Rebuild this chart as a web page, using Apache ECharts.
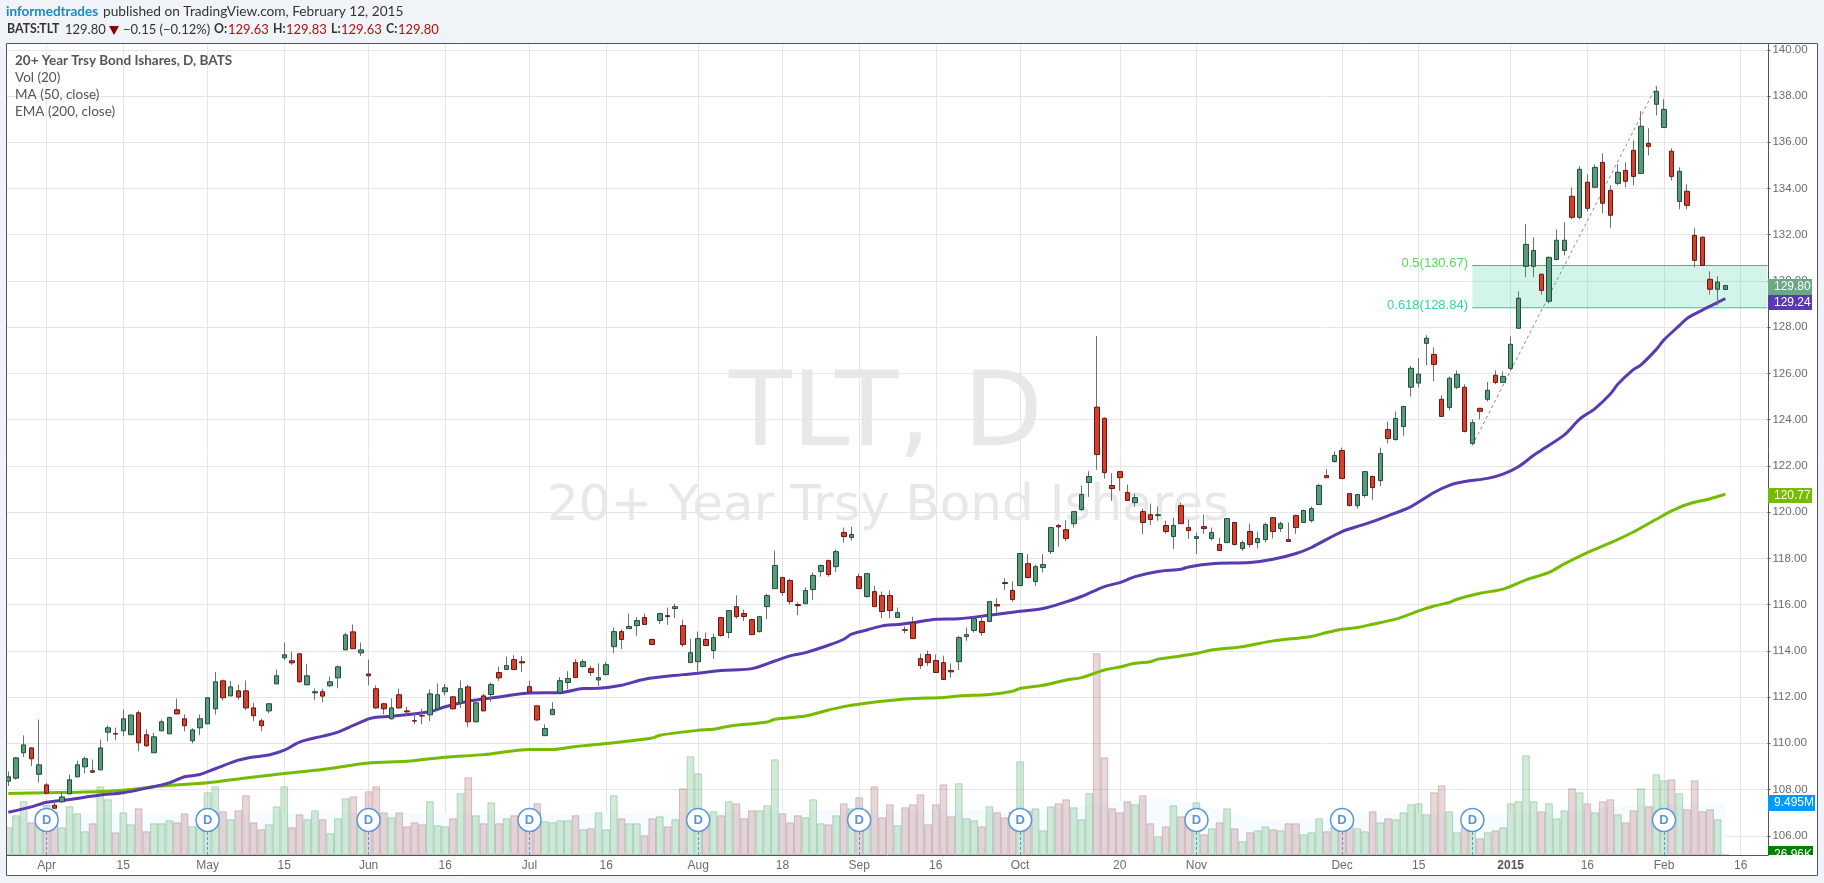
<!DOCTYPE html>
<html><head><meta charset="utf-8">
<style>html,body{margin:0;padding:0;background:#f0f4f8;overflow:hidden}#c{width:1824px;height:883px}</style>
<script src="https://cdn.jsdelivr.net/npm/echarts@6/dist/echarts.min.js"></script>
</head><body><div id="c"></div>
<script>
const tradingDays = {
 '2014-03':[25,26,27,28,31],
 '2014-04':[1,2,3,4,7,8,9,10,11,14,15,16,17,21,22,23,24,25,28,29,30],
 '2014-05':[1,2,5,6,7,8,9,12,13,14,15,16,19,20,21,22,23,27,28,29,30],
 '2014-06':[2,3,4,5,6,9,10,11,12,13,16,17,18,19,20,23,24,25,26,27,30],
 '2014-07':[1,2,3,7,8,9,10,11,14,15,16,17,18,21,22,23,24,25,28,29,30,31],
 '2014-08':[1,4,5,6,7,8,11,12,13,14,15,18,19,20,21,22,25,26,27,28,29],
 '2014-09':[2,3,4,5,8,9,10,11,12,15,16,17,18,19,22,23,24,25,26,29,30],
 '2014-10':[1,2,3,6,7,8,9,10,13,14,15,16,17,20,21,22,23,24,27,28,29,30,31],
 '2014-11':[3,4,5,6,7,10,11,12,13,14,17,18,19,20,21,24,25,26,28],
 '2014-12':[1,2,3,4,5,8,9,10,11,12,15,16,17,18,19,22,23,24,26,29,30,31],
 '2015-01':[2,5,6,7,8,9,12,13,14,15,16,20,21,22,23,26,27,28,29,30],
 '2015-02':[2,3,4,5,6,9,10,11,12,13,16,17,18,19]
};
const categories = Object.keys(tradingDays).flatMap(m => tradingDays[m].map(d => m + '-' + String(d).padStart(2,'0')));

const tickDates  = ['2014-04-01','2014-04-15','2014-05-01','2014-05-15','2014-06-02','2014-06-16','2014-07-01','2014-07-16','2014-08-01','2014-08-18','2014-09-02','2014-09-16','2014-10-01','2014-10-20','2014-11-03','2014-12-01','2014-12-15','2015-01-02','2015-01-16','2015-02-02','2015-02-16'];
const tickLabels = ['Apr','15','May','15','Jun','16','Jul','16','Aug','18','Sep','16','Oct','20','Nov','Dec','15','2015','16','Feb','16'];
const dividendDates = ['2014-04-01','2014-05-01','2014-06-02','2014-07-01','2014-08-01','2014-09-02','2014-10-01','2014-11-03','2014-12-01','2014-12-24','2015-02-02'];

const opens = [108.36,108.49,109.59,109.80,108.66,108.20,107.32,107.47,107.81,108.55,108.98,108.81,108.85,110.48,110.42,110.54,110.37,111.32,110.37,109.59,
110.54,110.41,111.45,111.06,110.11,110.67,110.84,111.49,112.70,112.05,112.27,112.27,111.53,110.97,111.40,112.57,113.70,113.57,113.87,112.53,
112.18,112.23,112.49,112.83,114.04,114.82,113.91,113.00,112.36,111.71,111.06,112.10,111.40,110.98,111.20,111.23,111.49,112.23,112.01,111.75,
112.44,110.93,112.05,112.11,113.06,113.19,113.62,113.53,112.45,111.62,110.33,111.24,112.19,112.63,113.49,113.32,113.23,112.74,112.97,114.18,
114.83,114.96,115.09,115.44,114.49,115.31,115.52,115.83,115.09,113.49,113.53,114.49,114.01,115.44,114.79,115.91,115.61,115.35,114.83,115.91,
116.69,117.17,117.04,116.00,116.04,116.65,117.43,117.90,117.64,119.12,118.90,117.21,116.35,116.56,116.39,116.39,115.44,114.91,115.22,113.66,
113.84,113.58,113.49,113.15,113.53,114.62,114.88,115.27,115.27,116.00,116.95,116.61,116.82,117.77,117.00,117.60,118.29,119.42,119.24,119.50,
120.11,121.28,124.54,124.06,121.15,121.75,120.85,120.41,120.02,119.89,119.85,119.42,118.94,120.28,119.33,118.86,119.37,118.86,118.60,118.68,
119.55,118.42,119.16,118.68,118.81,119.76,119.29,118.81,119.85,119.55,119.63,120.33,121.58,122.19,122.66,120.80,120.28,120.72,121.54,121.36,
123.57,123.14,123.70,125.40,125.58,127.30,126.82,124.88,124.53,125.40,125.40,122.97,124.49,124.88,125.92,125.61,126.22,127.95,130.63,130.63,
130.29,129.12,130.93,131.32,133.66,132.75,134.27,134.05,135.13,133.92,134.22,134.78,135.65,134.65,135.95,137.64,136.64,135.61,133.44,133.88,
131.97,131.89,130.07,129.64,129.63];
const closes = [108.55,109.37,109.93,109.33,109.07,107.84,107.19,107.68,108.42,109.07,109.33,108.75,109.80,110.67,110.40,111.06,111.22,110.02,109.89,110.28,
110.93,111.12,111.27,110.76,110.58,111.06,111.97,112.66,111.97,112.44,112.00,111.53,111.19,110.76,111.71,112.92,113.83,113.48,112.66,112.92,
112.23,112.04,112.66,113.31,114.69,114.09,114.04,112.92,111.53,111.49,111.53,111.53,111.36,110.96,111.18,112.14,112.10,112.40,111.49,112.36,
110.93,111.75,111.40,112.54,112.83,113.36,113.19,113.48,112.22,111.01,110.64,111.46,112.71,112.80,112.84,113.53,113.06,112.84,113.40,114.83,
114.49,115.05,115.31,115.14,114.27,115.61,115.48,115.91,114.27,113.92,114.53,114.23,114.57,114.66,115.74,115.48,115.48,114.70,115.48,116.39,
117.69,116.52,116.13,115.96,116.61,117.26,117.69,117.30,118.29,118.94,119.03,116.69,117.34,115.91,115.70,115.74,115.65,114.89,114.53,113.36,
113.49,113.06,112.76,113.09,114.57,114.70,115.39,114.79,116.13,115.94,116.91,116.22,118.21,117.17,117.64,117.73,119.33,119.36,118.86,120.02,
120.76,121.54,122.49,121.71,121.02,121.49,120.50,120.63,119.55,119.68,119.89,119.16,119.42,119.50,119.20,118.94,119.29,119.12,118.34,119.72,
118.60,118.68,118.60,118.86,119.46,119.16,119.50,118.73,119.33,120.07,120.15,121.15,121.49,122.45,121.45,120.28,120.76,121.75,121.06,122.53,
123.18,124.05,124.57,126.22,125.97,127.52,126.39,124.14,125.79,125.96,123.49,123.87,124.36,125.27,125.61,125.87,127.26,129.25,131.58,131.32,
129.59,131.02,131.76,131.76,132.75,134.83,133.14,134.91,133.36,132.84,134.70,134.31,134.52,136.69,135.82,138.20,137.42,134.52,134.74,133.27,
130.89,130.67,129.64,129.95,129.80];
const highs = [108.78,109.40,110.34,109.83,111.03,108.29,107.50,107.90,108.65,109.25,109.43,109.30,110.16,110.77,110.68,111.46,111.24,111.42,110.60,110.45,
111.03,111.14,111.94,111.25,110.65,111.25,112.00,113.08,112.76,112.69,112.54,112.72,111.75,111.06,111.74,113.19,114.36,113.96,113.91,113.44,
112.37,112.36,112.89,113.37,114.78,115.14,114.36,113.62,112.50,111.75,111.94,112.37,111.58,111.32,111.49,112.33,112.59,112.57,112.05,112.72,
112.53,111.79,112.14,112.63,113.32,113.75,113.81,113.77,112.71,111.62,110.82,111.78,112.86,113.12,113.64,113.64,113.36,113.46,113.53,115.01,
114.92,115.61,115.45,115.61,114.53,115.65,115.87,116.04,115.35,114.53,114.83,114.79,114.75,115.46,115.76,116.40,115.78,115.39,115.50,116.48,
118.34,117.21,117.13,116.09,116.74,117.39,117.73,117.95,118.38,119.33,119.37,117.34,117.36,116.82,116.56,116.62,115.87,115.05,115.48,113.88,
114.01,113.84,113.79,113.45,114.66,115.01,115.48,115.51,116.15,116.27,117.14,117.01,118.21,118.18,117.73,118.18,119.37,119.50,119.65,120.04,
121.15,121.77,127.62,124.09,121.68,121.77,121.19,120.80,120.15,120.37,120.24,119.63,119.76,120.41,119.68,119.12,119.89,119.33,118.90,119.74,
119.57,118.77,119.50,119.16,119.55,119.78,119.59,119.55,119.89,120.11,120.24,121.23,121.86,122.63,122.79,120.82,120.78,121.77,121.58,122.79,
123.92,124.35,124.60,126.32,126.66,127.65,127.13,125.05,125.87,126.13,125.53,124.01,124.51,125.63,126.13,126.09,127.60,129.55,132.46,131.89,
130.31,131.06,132.23,132.53,134.05,134.96,134.61,135.04,135.52,134.14,135.04,135.13,136.08,137.34,136.60,138.42,137.86,135.74,134.91,134.18,
132.28,131.93,130.41,130.20,129.83];
const lows = [108.15,108.43,109.40,109.01,108.30,107.84,107.19,107.42,107.81,108.53,108.71,108.71,108.85,110.09,110.14,110.31,110.37,109.66,109.85,109.59,
110.54,110.41,111.27,110.52,110.00,110.35,110.84,111.25,111.85,112.04,111.89,111.43,110.96,110.52,111.30,112.57,113.60,113.39,112.62,112.51,
111.88,111.78,112.44,112.38,114.04,114.09,113.77,112.51,111.49,111.26,111.03,111.49,111.17,110.83,110.83,110.96,111.49,112.07,111.46,111.53,
110.70,110.89,111.40,111.80,112.70,113.19,113.19,113.09,112.22,110.97,110.33,111.24,112.16,112.34,112.84,113.28,112.91,112.48,112.94,113.90,
114.08,114.96,114.65,115.14,114.27,115.16,115.12,115.42,114.17,113.49,113.10,114.23,113.65,114.62,114.54,115.39,115.29,114.70,114.79,115.37,
116.69,116.38,116.00,115.55,116.04,116.20,117.21,117.21,117.41,118.68,118.77,116.69,116.30,115.91,115.42,115.42,115.44,114.75,114.53,113.22,
113.35,113.06,112.76,112.83,113.17,114.43,114.79,114.65,115.27,115.65,116.64,116.13,116.82,117.13,116.81,117.39,118.19,118.50,118.75,119.33,
120.05,120.66,121.83,121.45,120.49,120.92,120.50,120.24,119.06,119.45,119.63,119.07,118.41,119.50,118.84,118.19,119.06,118.77,118.34,118.68,
118.55,118.32,118.47,118.42,118.68,118.86,119.14,118.73,119.06,119.55,119.55,120.33,121.49,122.14,121.45,120.26,120.15,120.63,120.53,121.12,
122.97,123.09,123.30,125.00,125.39,126.35,125.66,124.14,124.40,125.31,123.45,122.89,124.01,124.79,125.53,125.61,126.13,127.95,130.16,130.16,
129.41,129.03,130.89,131.11,132.66,132.66,133.01,134.05,132.92,132.28,134.14,134.05,134.14,134.65,135.43,137.16,136.64,134.35,133.10,133.10,
130.59,130.67,129.41,128.94,129.63];
const volumes = [5.12,7.34,9.93,6.04,6.47,9.25,8.01,5.12,9.0,7.71,4.38,5.86,12.7,10.3,4.19,7.89,5.67,8.63,4.38,5.86,
5.86,6.41,6.04,7.71,5.3,7.34,11.59,12.7,8.08,6.6,8.26,11.04,6.04,4.75,5.67,9.0,12.7,5.12,7.52,6.6,
8.26,6.6,4.01,6.78,10.48,10.85,6.78,11.78,12.7,7.89,6.97,7.89,5.3,6.04,5.67,9.93,5.49,5.3,6.78,11.41,
14.37,7.34,5.86,9.74,5.86,6.78,7.34,7.4,7.4,9.56,6.23,6.04,6.41,6.41,7.34,4.75,4.93,7.89,4.75,11.04,
6.78,5.86,5.86,3.64,6.78,7.15,5.3,6.6,12.33,18.25,15.1,6.47,8.08,7.34,9.93,9.56,6.78,8.26,8.26,9.19,
17.69,7.71,6.04,7.34,6.97,10.3,5.86,5.67,7.34,9.56,8.63,10.67,6.78,12.7,6.97,9.37,5.49,8.82,9.37,11.22,
5.67,9.37,13.07,7.15,13.26,6.78,6.41,5.3,9.0,7.89,6.97,8.01,17.32,8.2,8.63,4.56,9.0,9.56,10.3,8.82,
6.6,11.41,37.3,18.06,8.63,7.89,9.93,9.37,11.04,5.86,3.45,5.3,9.19,7.15,6.47,9.74,3.82,4.93,6.04,8.63,
4.93,2.53,4.19,4.56,5.3,4.75,4.56,5.86,5.86,3.82,4.19,6.78,4.38,5.24,6.35,5.86,4.93,4.38,8.08,6.04,
6.78,6.6,7.89,9.37,9.56,7.52,11.59,12.89,8.08,4.19,5.24,5.24,3.08,4.19,4.56,5.12,9.56,9.93,18.43,9.93,
8.08,9.56,6.78,8.26,12.33,11.59,9.56,7.89,9.93,10.3,7.52,6.04,8.26,12.33,9.0,14.92,13.81,14.0,11.41,8.45,
13.81,8.08,8.45,6.6,0.027];

const ma50Index = [0,3,5,8,12,15,18,21,23,25,27,30,32,34,36,38,41,43,45,47,48,50,55,57,60,64,68,72,75,77,80,83,88,90,93,97,100,102,104,107,109,110,112,114,116,118,121,124,128,132,135,138,140,143,145,147,150,153,154,157,162,165,168,170,174,177,180,183,186,188,190,193,195,197,199,200,203,205,207,209,210,212,213,215,216,218,219,221,223,224];
const ma50 = [107.02,107.25,107.45,107.57,107.76,107.86,108.06,108.29,108.55,108.65,108.90,109.27,109.41,109.49,109.70,110.05,110.31,110.48,110.77,111.06,111.13,111.17,111.36,111.58,111.82,112.00,112.18,112.19,112.37,112.38,112.51,112.77,112.97,113.03,113.15,113.23,113.56,113.78,113.92,114.24,114.50,114.72,114.90,115.08,115.14,115.21,115.37,115.39,115.54,115.71,115.83,116.12,116.35,116.78,116.95,117.21,117.43,117.53,117.63,117.77,117.82,117.96,118.21,118.47,119.16,119.48,119.84,120.24,120.85,121.16,121.32,121.46,121.64,121.96,122.46,122.68,123.34,124.02,124.48,125.11,125.54,126.16,126.37,127.04,127.45,128.07,128.38,128.74,129.07,129.24];
const ema200Index = [0,5,10,15,20,26,31,36,41,47,52,57,62,68,71,74,78,84,85,90,92,94,99,100,104,107,110,117,122,124,128,131,132,135,138,140,143,145,147,149,150,153,155,157,161,165,170,172,174,176,178,181,182,184,186,188,189,192,195,198,201,203,206,209,212,215,217,219,222,224];
const ema200 = [107.83,107.86,107.89,107.97,108.15,108.29,108.50,108.69,108.87,109.15,109.22,109.40,109.51,109.73,109.73,109.86,109.99,110.23,110.35,110.56,110.61,110.74,110.92,111.04,111.18,111.44,111.65,111.92,111.98,112.05,112.11,112.25,112.37,112.51,112.74,112.84,113.17,113.30,113.46,113.53,113.64,113.78,113.88,114.04,114.18,114.43,114.62,114.79,114.93,115.01,115.15,115.37,115.48,115.73,115.94,116.09,116.23,116.49,116.67,117.07,117.39,117.76,118.25,118.67,119.14,119.69,120.05,120.33,120.58,120.77];
const volMaIndex = [0,20,40,60,80,100,120,135,150,165,180,195,215,224];
const volMa = [7.5,7.5,7.8,7.6,7.7,8.2,8.4,8.5,10.5,6.4,7.7,7.5,9.4,9.495];

const fibTop = 130.67, fibBottom = 128.84;
const swingLow = ['2014-12-24',122.89], swingHigh = ['2015-01-30',138.42];
const pageBg = '#f0f4f8';

const up = i => closes[i] >= opens[i];
const tickMap = Object.fromEntries(tickDates.map((d,i)=>[d,tickLabels[i]]));
const pair = (idx,val)=>idx.map((x,i)=>[x,val[i]]);
const isTick = (i,v)=>tickMap[v]!==undefined;
const uiFont = 'Lato';

const chart = echarts.init(document.getElementById('c'));
const gridLeft = 4.47, gridWidth = 1763;
const text = (x,y,t,o={}) => ({type:'text',x,y,z:o.z||70,silent:true,style:Object.assign({text:t,fontFamily:uiFont,fontSize:13.5,fill:'#333',verticalAlign:'middle'},o.s||{})});
const head = (x,t) => text(x,29.5,t,{s:{fontWeight:'bold',fontSize:12.3}});
const quote = (x,t) => text(x,29.5,t,{s:{fill:'#b01010',fontSize:13}});
const tag = (y,h,bg,t,x2) => ([
  {type:'rect',z:60,silent:true,shape:{x:1768,y,width:x2-1768,height:h},style:{fill:bg}},
  {type:'text',z:61,silent:true,x:1774,y:y+h/2,style:{text:t,fill:'#fff',fontFamily:'Liberation Sans',fontSize:12,verticalAlign:'middle'}}
]);

const graphicEls = [
  {type:'rect',z:-10,silent:true,shape:{x:6,y:43,width:1812,height:833},style:{fill:'#fff'}},
  {type:'text',z:-5,silent:true,x:886,y:418,style:{text:'TLT, D',align:'center',verticalAlign:'middle',fontFamily:'DejaVu Sans',fontSize:103,fill:'#e8e8e8'}},
  {type:'text',z:-5,silent:true,x:888,y:507,style:{text:'20+ Year Trsy Bond Ishares',align:'center',verticalAlign:'middle',fontFamily:'DejaVu Sans',fontSize:50,fill:'#e8e8e8'}},
  {type:'rect',z:50,silent:true,shape:{x:0,y:0,width:6,height:883},style:{fill:pageBg}},
  {type:'rect',z:50,silent:true,shape:{x:0,y:877,width:1824,height:6},style:{fill:pageBg}},
  {type:'rect',z:51,silent:true,shape:{x:6.5,y:43.5,width:1811,height:832},style:{fill:null,stroke:'#555',lineWidth:1}},
  {type:'line',z:51,silent:true,shape:{x1:6.5,y1:855.5,x2:1768.5,y2:855.5},style:{stroke:'#555',lineWidth:1}},
  {type:'line',z:51,silent:true,shape:{x1:1768.5,y1:43.5,x2:1768.5,y2:855.5},style:{stroke:'#555',lineWidth:1}},
  text(6,11.5,'informedtrades',{s:{fill:'#1c87c0',fontWeight:'bold'}}),
  text(103,11.5,'published on TradingView.com, February 12, 2015',{s:{fontSize:13.7}}),
  head(7,'BATS:TLT'),
  text(65,29.5,'129.80',{s:{fontSize:13}}),
  {type:'polygon',z:70,silent:true,shape:{points:[[109,26],[119,26],[114,35]]},style:{fill:'#8b0000'}},
  text(123,29.5,'\u22120.15 (\u22120.12%)',{s:{fontSize:13}}),
  head(214,'O:'), quote(228,'129.63'),
  head(273,'H:'), quote(286,'129.83'),
  head(331,'L:'), quote(341,'129.63'),
  head(386,'C:'), quote(398,'129.80'),
  text(15,60.5,'20+ Year Trsy Bond Ishares, D, BATS',{s:{fill:'#555',fontWeight:'bold'}}),
  text(15,77.5,'Vol (20)',{s:{fill:'#555'}}),
  text(15,94.5,'MA (50, close)',{s:{fill:'#555'}}),
  text(15,111.5,'EMA (200, close)',{s:{fill:'#555'}}),
  {type:'text',z:30,silent:true,x:1468,y:263.5,style:{text:'0.5(130.67)',align:'right',verticalAlign:'middle',fontFamily:'Liberation Sans',fontSize:13,fill:'#58d858'}},
  {type:'text',z:30,silent:true,x:1468,y:305.5,style:{text:'0.618(128.84)',align:'right',verticalAlign:'middle',fontFamily:'Liberation Sans',fontSize:13,fill:'#35d4a0'}},
  ...tag(279,16,'#6aa888','129.80',1812),
  ...tag(295,15,'#5a3ab0','129.24',1812),
  ...tag(488,15,'#76bb00','120.77',1812),
  ...tag(795,16,'#0099ff','9.495M',1815),
  {type:'rect',z:60,silent:true,shape:{x:1768,y:846,width:45,height:9},style:{fill:'#008000'}},
  {type:'text',z:61,silent:true,x:1774,y:855,style:{text:'26.96K',fill:'#fff',fontFamily:'Liberation Sans',fontSize:12,verticalAlign:'middle'}},
  {type:'rect',z:62,silent:true,shape:{x:1769,y:855.5,width:48,height:19.5},style:{fill:'#fff'}}
];

const dIdx = dividendDates.map(d=>categories.indexOf(d));
const dY = 6.47;
const lineHalf = 0.022;

chart.setOption({
  animation:false,
  graphic:{elements:graphicEls},
  grid:[
    {left:gridLeft,width:gridWidth,top:49.75,height:832.25,containLabel:false},
    {left:gridLeft,width:gridWidth,top:44,height:811,containLabel:false}
  ],
  xAxis:[
    {type:'category',gridIndex:0,data:categories,show:false},
    {type:'category',gridIndex:1,data:categories,boundaryGap:true,axisLine:{show:false},axisTick:{show:false},
     axisLabel:{show:true,interval:isTick,margin:5,color:'#6b6b6b',fontFamily:'Liberation Sans',fontSize:12,
       formatter:v=>v==='2015-01-02'?'{b|2015}':(tickMap[v]||''),rich:{b:{fontWeight:'bold',color:'#555',fontSize:12,fontFamily:'Liberation Sans'}}},
     splitLine:{show:true,interval:isTick,alignWithLabel:true,lineStyle:{color:'#e6e6e6',width:1}}}
  ],
  yAxis:[
    {type:'value',gridIndex:0,position:'right',min:104,max:140,interval:2,axisLine:{show:false},
     axisTick:{show:true,length:3,lineStyle:{color:'#555'}},
     axisLabel:{margin:5,color:'#6b6b6b',fontFamily:'Liberation Sans',fontSize:11.5,formatter:v=>v<105?'':v.toFixed(2)},
     splitLine:{show:true,lineStyle:{color:'#e6e6e6',width:1}}},
    {type:'value',gridIndex:1,min:0,max:150,show:false,splitLine:{show:false}}
  ],
  series:[
    {name:'Vol MA',type:'line',xAxisIndex:1,yAxisIndex:1,z:1,data:pair(volMaIndex,volMa),symbol:'none',smooth:0.3,
     lineStyle:{width:0},areaStyle:{color:'#f6fbff',opacity:1},silent:true},
    {name:'Vol',type:'bar',xAxisIndex:1,yAxisIndex:1,z:2,barWidth:7.665,silent:true,
     data:volumes.map((v,i)=>({value:v,itemStyle:up(i)
       ?{color:'rgba(110,185,130,0.30)',borderColor:'rgba(90,170,110,0.40)',borderWidth:1}
       :{color:'rgba(160,95,100,0.25)',borderColor:'rgba(170,100,105,0.36)',borderWidth:1}}))},
    {name:'Fib',type:'line',xAxisIndex:0,yAxisIndex:0,z:3,silent:true,symbol:'none',
     data:[[categories.indexOf(swingLow[0]),swingLow[1]],[categories.indexOf(swingHigh[0]),swingHigh[1]]],
     lineStyle:{color:'#8a8a8a',width:1,type:[3,3]},
     markArea:{silent:true,z:3,
       data:[[{xAxis:swingLow[0],yAxis:fibTop,itemStyle:{color:'rgba(63,210,160,0.23)'}},{xAxis:Infinity,yAxis:fibBottom}],
             [{xAxis:swingLow[0],yAxis:fibTop+lineHalf,itemStyle:{color:'#2ed02e'}},{xAxis:Infinity,yAxis:fibTop-lineHalf}],
             [{xAxis:swingLow[0],yAxis:fibBottom+lineHalf,itemStyle:{color:'#1fd090'}},{xAxis:Infinity,yAxis:fibBottom-lineHalf}]]}},
    {name:'EMA (200, close)',type:'line',xAxisIndex:0,yAxisIndex:0,z:4,data:pair(ema200Index,ema200),symbol:'none',smooth:0.3,
     lineStyle:{color:'#76bb00',width:3},silent:true},
    {name:'MA (50, close)',type:'line',xAxisIndex:0,yAxisIndex:0,z:4,data:pair(ma50Index,ma50),symbol:'none',smooth:0.3,
     lineStyle:{color:'#5a3ab0',width:3},silent:true},
    {name:'TLT range',type:'candlestick',xAxisIndex:0,yAxisIndex:0,z:5,barWidth:1,silent:true,
     data:opens.map((o,i)=>[o,closes[i],lows[i],highs[i]]),
     itemStyle:{color:'#707070',color0:'#707070',borderColor:'#707070',borderColor0:'#707070',borderColorDoji:'#707070',borderWidth:1}},
    {name:'TLT',type:'candlestick',xAxisIndex:0,yAxisIndex:0,z:6,barWidth:5,silent:true,
     data:opens.map((o,i)=>[o,closes[i],Math.min(o,closes[i]),Math.max(o,closes[i])]),
     itemStyle:{color:'#5b9a78',color0:'#d2412e',borderColor:'#1c4f3c',borderColor0:'#6e1410',borderColorDoji:'#6e1410',borderWidth:1}},
    {name:'Dividends',type:'scatter',xAxisIndex:1,yAxisIndex:1,z:8,silent:true,symbol:'circle',symbolSize:23,
     data:dIdx.map(i=>[i,dY]),
     itemStyle:{color:'#fff',borderColor:'#5a96d8',borderWidth:1.5,opacity:1},
     label:{show:true,position:'inside',formatter:'D',color:'#5a96d8',fontWeight:'bold',fontFamily:'Liberation Sans',fontSize:13},
     markLine:{silent:true,symbol:'none',label:{show:false},z:7,lineStyle:{color:'#5a96d8',width:1,type:[3,2]},
       data:dIdx.map(i=>[{coord:[i,0]},{coord:[i,dY-2]}])}}
  ]
});
</script></body></html>
